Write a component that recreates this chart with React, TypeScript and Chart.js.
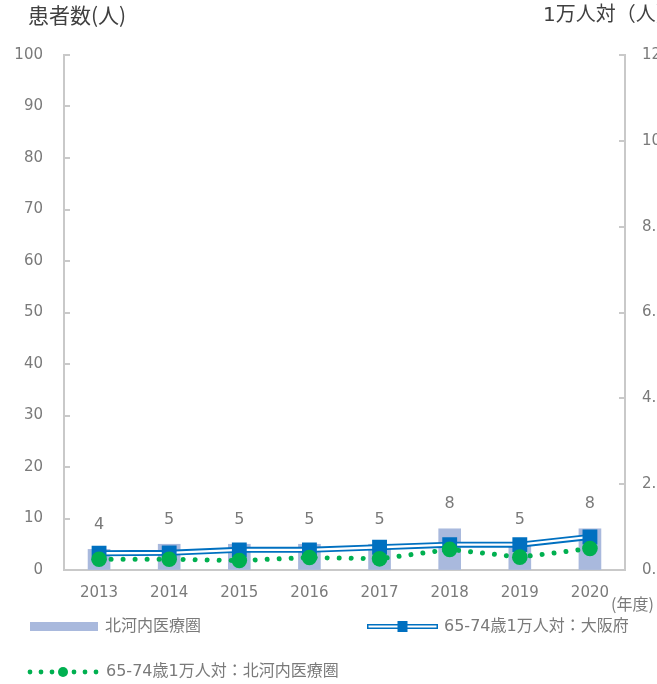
import React, { useEffect, useRef } from 'react';
import { Chart, registerables } from 'chart.js';

Chart.register(...registerables);

// ---- data ----
const years = ['2013', '2014', '2015', '2016', '2017', '2018', '2019', '2020'];
const patients = [4, 5, 5, 5, 5, 8, 5, 8];
const osakaRate = [0.39, 0.40, 0.47, 0.47, 0.53, 0.59, 0.59, 0.77];
const kitaRate = [0.25, 0.25, 0.22, 0.29, 0.26, 0.48, 0.30, 0.50];
const legendLabels = ['北河内医療圏', '65-74歳1万人対：大阪府', '65-74歳1万人対：北河内医療圏'];
const leftTitle = '患者数(人)';
const rightTitle = '1万人対（人）';
const xUnit = '(年度)';

// ---- style ----
const W = 720;
const H = 684;
const BAR = '#a9b9dd';
const BLUE = '#0070c0';
const GREEN = '#00b050';
const AXIS = '#c9c9c9';
const TXT = '#7a7a7a';
const TITLE = '#404040';
const FAMILY = '"DejaVu Sans", "Noto Sans CJK JP", sans-serif';
const CJK = '"Noto Sans CJK JP", "DejaVu Sans", sans-serif';

const decorPlugin = {
  id: 'decor',
  afterDatasetsDraw(chart: any) {
    const ctx = chart.ctx;
    const meta = chart.getDatasetMeta(0);
    ctx.save();
    ctx.font = `16px ${FAMILY}`;
    ctx.fillStyle = TXT;
    ctx.textAlign = 'center';
    ctx.textBaseline = 'middle';
    meta.data.forEach((el: any, i: number) => {
      ctx.fillText(String(patients[i]), el.x, el.y - 24.5);
    });
    ctx.restore();
  },
  afterDraw(chart: any) {
    const ctx = chart.ctx;
    const area = chart.chartArea;
    ctx.save();
    // inward ticks
    ctx.strokeStyle = AXIS;
    ctx.lineWidth = 2;
    const ys = chart.scales.y;
    ys.ticks.forEach((t: any) => {
      const y = Math.round(ys.getPixelForValue(t.value));
      ctx.beginPath();
      ctx.moveTo(area.left - 1, y);
      ctx.lineTo(area.left + 6, y);
      ctx.stroke();
    });
    const y2 = chart.scales.y2;
    y2.ticks.forEach((t: any) => {
      const y = Math.round(y2.getPixelForValue(t.value));
      ctx.beginPath();
      ctx.moveTo(area.right - 6, y);
      ctx.lineTo(area.right + 1, y);
      ctx.stroke();
    });

    // titles
    ctx.fillStyle = TITLE;
    ctx.textBaseline = 'middle';
    ctx.textAlign = 'left';
    ctx.font = `21px ${CJK}`;
    ctx.fillText(leftTitle, 28, 15);
    ctx.font = `20px ${FAMILY}`;
    ctx.fillText(rightTitle, 543, 16);

    // x unit
    ctx.fillStyle = TXT;
    ctx.font = `16px ${CJK}`;
    ctx.fillText(xUnit, 611, 604);

    // legend
    ctx.font = `16px ${FAMILY}`;
    ctx.fillStyle = BAR;
    ctx.fillRect(30, 622, 68, 9);
    ctx.fillStyle = TXT;
    ctx.fillText(legendLabels[0], 105, 627);

    ctx.lineCap = 'butt';
    ctx.strokeStyle = BLUE;
    ctx.lineWidth = 5;
    ctx.beginPath();
    ctx.moveTo(367, 626.5);
    ctx.lineTo(438, 626.5);
    ctx.stroke();
    ctx.strokeStyle = '#ffffff';
    ctx.lineWidth = 1.8;
    ctx.beginPath();
    ctx.moveTo(368.5, 626.5);
    ctx.lineTo(436.5, 626.5);
    ctx.stroke();
    ctx.fillStyle = BLUE;
    ctx.fillRect(397.5, 621, 10, 11);
    ctx.fillStyle = TXT;
    ctx.fillText(legendLabels[1], 444, 627);

    ctx.fillStyle = GREEN;
    [30, 41, 52, 74, 85, 96].forEach((x) => {
      ctx.beginPath();
      ctx.arc(x, 672, 2.4, 0, Math.PI * 2);
      ctx.fill();
    });
    ctx.beginPath();
    ctx.arc(63, 672, 5, 0, Math.PI * 2);
    ctx.fill();
    ctx.fillStyle = TXT;
    ctx.fillText(legendLabels[2], 106, 672);

    ctx.restore();
  },
};

export default function App() {
  const ref = useRef<HTMLCanvasElement>(null);
  useEffect(() => {
    const tickFont = { family: FAMILY, size: 15 };
    const chart = new Chart(ref.current as HTMLCanvasElement, {
      type: 'bar',
      data: {
        labels: years,
        datasets: [
          {
            type: 'bar',
            label: legendLabels[0],
            data: patients,
            backgroundColor: BAR,
            barThickness: 22,
            yAxisID: 'y',
            order: 6,
          } as any,
          {
            type: 'line',
            label: legendLabels[2] + ' marker',
            data: kitaRate,
            showLine: false,
            pointStyle: 'circle',
            pointRadius: 7.8,
            pointBackgroundColor: GREEN,
            pointBorderColor: GREEN,
            pointBorderWidth: 0,
            yAxisID: 'y2',
            order: 0,
          },
          {
            type: 'line',
            label: legendLabels[2],
            data: kitaRate,
            borderColor: GREEN,
            borderWidth: 5,
            borderDash: [0.01, 12],
            borderCapStyle: 'round',
            pointRadius: 0,
            tension: 0,
            fill: false,
            yAxisID: 'y2',
            order: 1,
          },
          {
            type: 'line',
            label: legendLabels[1] + ' marker',
            data: osakaRate,
            showLine: false,
            pointStyle: 'rect',
            pointRadius: 10.5,
            pointBackgroundColor: BLUE,
            pointBorderColor: BLUE,
            pointBorderWidth: 0,
            yAxisID: 'y2',
            order: 2,
          },
          {
            type: 'line',
            label: legendLabels[1] + ' inner',
            data: osakaRate,
            borderColor: '#ffffff',
            borderWidth: 2.3,
            pointRadius: 0,
            tension: 0,
            fill: false,
            yAxisID: 'y2',
            order: 3,
          },
          {
            type: 'line',
            label: legendLabels[1],
            data: osakaRate,
            borderColor: BLUE,
            borderWidth: 6,
            pointRadius: 0,
            tension: 0,
            fill: false,
            yAxisID: 'y2',
            order: 4,
          },
        ],
      },
      options: {
        responsive: false,
        animation: false,
        devicePixelRatio: 1,
        layout: { padding: { top: 55, bottom: 74, left: 0, right: 0 } },
        plugins: { legend: { display: false }, tooltip: { enabled: false } },
        scales: {
          x: {
            type: 'category',
            offset: true,
            grid: { display: true, drawOnChartArea: false, drawTicks: false },
            border: { display: true, color: AXIS, width: 2 },
            ticks: { font: tickFont, color: TXT, padding: 14, maxRotation: 0 },
            afterFit: (s: any) => { s.height = 40; },
          },
          y: {
            position: 'left',
            min: 0,
            max: 100,
            grid: { display: true, drawOnChartArea: false, drawTicks: false },
            border: { display: true, color: AXIS, width: 2 },
            ticks: { stepSize: 10, font: tickFont, color: TXT, padding: 21 },
            afterFit: (s: any) => { s.width = 64; },
          },
          y2: {
            position: 'right',
            min: 0,
            max: 12,
            grid: { display: true, drawOnChartArea: false, drawTicks: false },
            border: { display: true, color: AXIS, width: 2 },
            ticks: {
              stepSize: 2,
              font: tickFont,
              color: TXT,
              padding: 17,
              callback: (v: any) => Number(v).toFixed(1),
            },
            afterFit: (s: any) => { s.width = W - 625; },
          },
        },
      } as any,
      plugins: [decorPlugin],
    });
    return () => chart.destroy();
  }, []);
  return (
    <div style={{ position: 'fixed', left: 0, top: 0, width: 657, height: 684, overflow: 'hidden', background: '#fff' }}>
      <canvas ref={ref} width={W} height={H} style={{ display: 'block', width: W, height: H }} />
    </div>
  );
}
